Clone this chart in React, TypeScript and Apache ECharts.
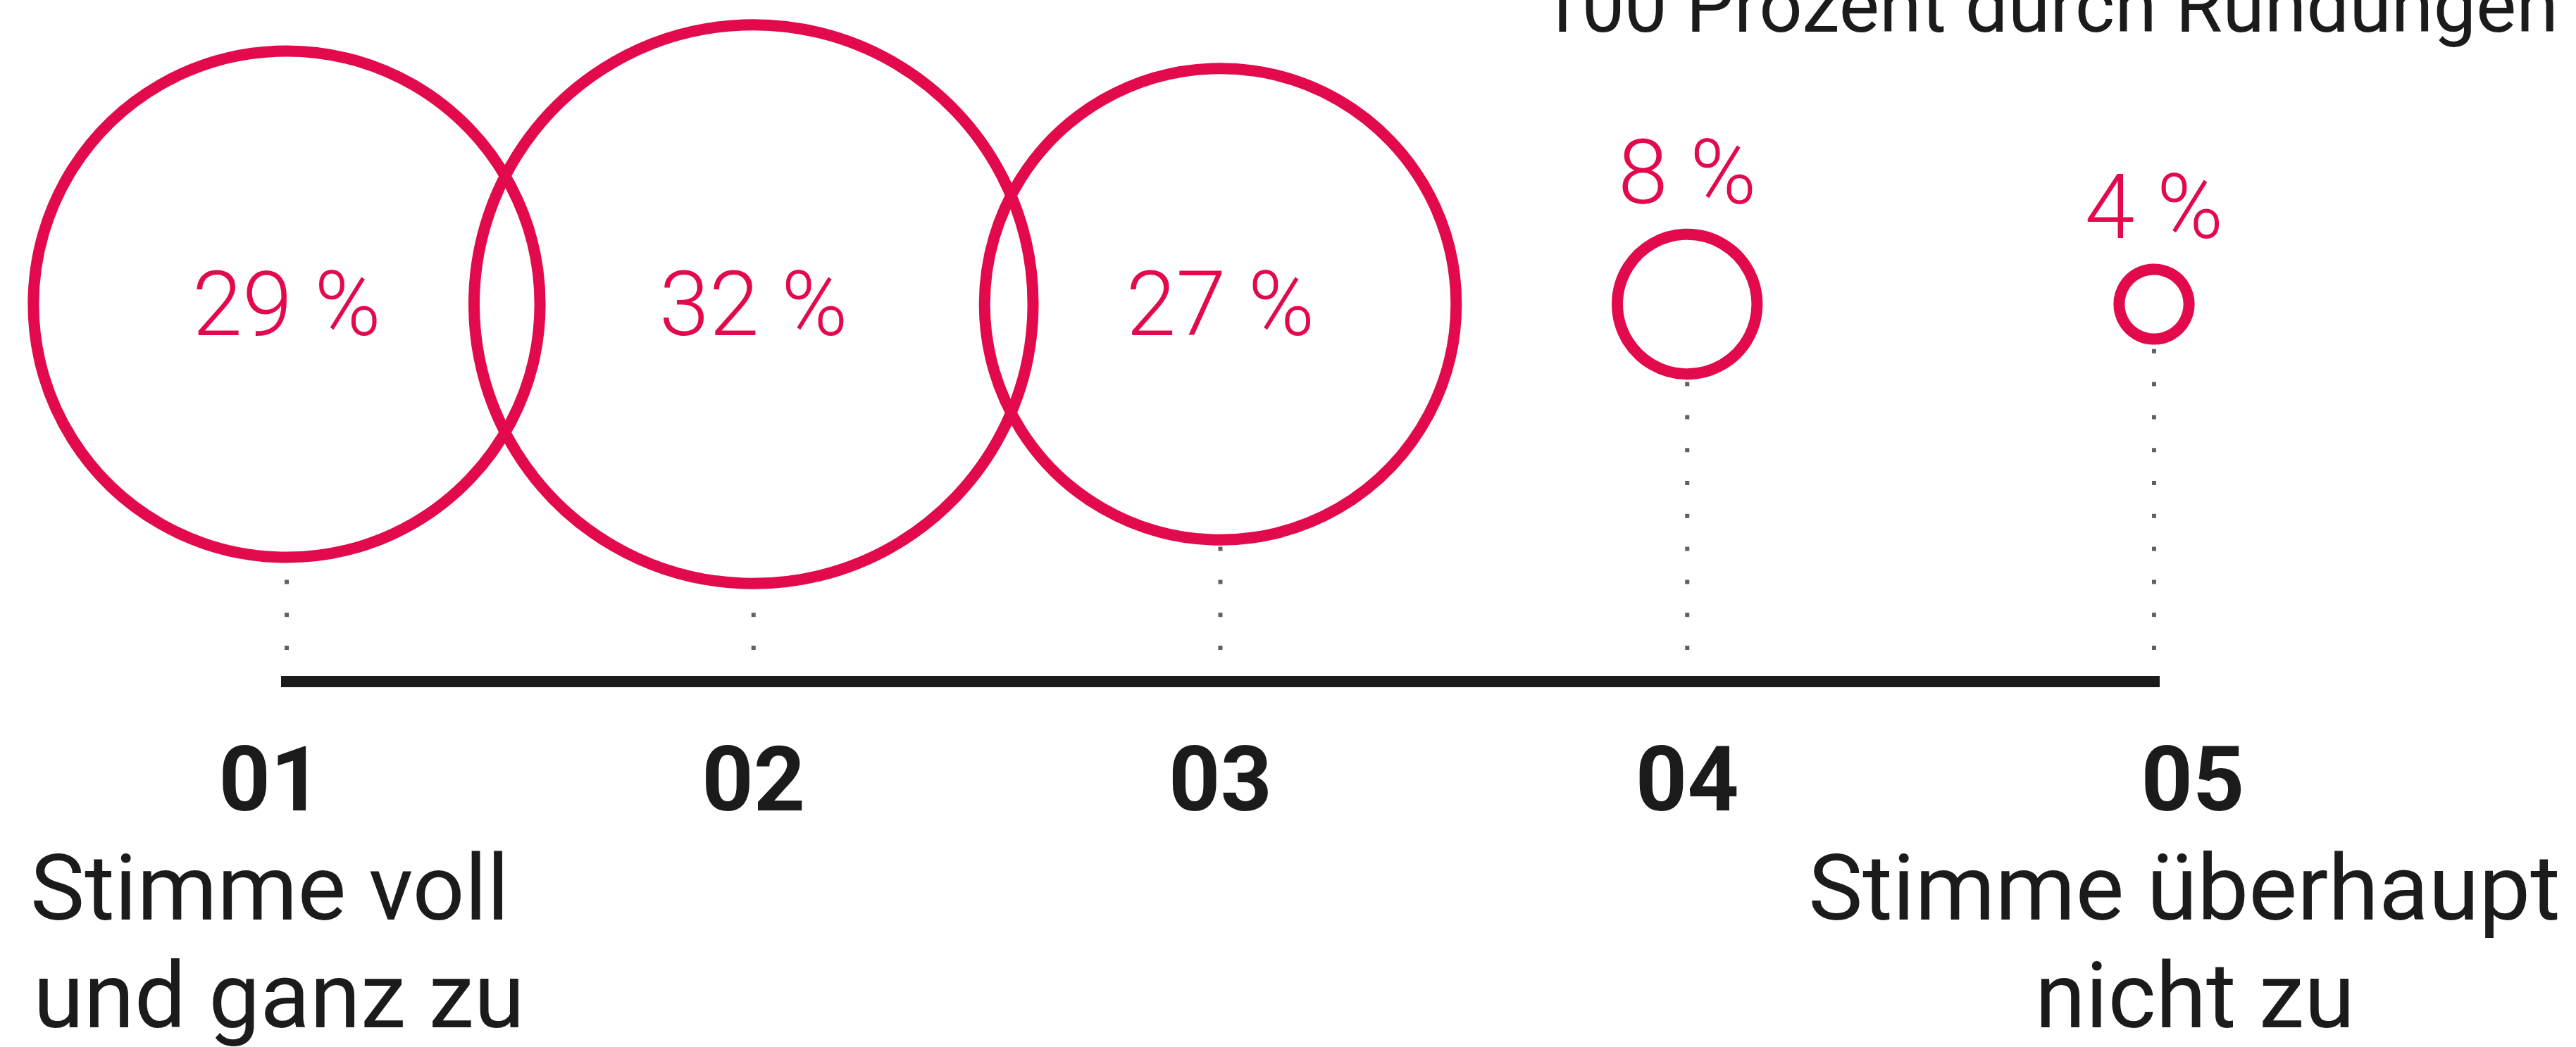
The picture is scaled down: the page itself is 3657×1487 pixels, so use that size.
import React, { useEffect, useRef } from 'react';
import * as echarts from 'echarts';

// ---- data ----
const categories = ['01', '02', '03', '04', '05'];
const shares = [29, 32, 27, 8, 4];
const shareLabels = ['29 %', '32 %', '27 %', '8 %', '4 %'];
const labelAbove = [false, false, false, true, true];
const scaleTitleTop = ['Stimme voll', '', '', '', 'Stimme überhaupt'];
const scaleTitleBottom = ['und ganz zu', '', '', '', 'nicht zu'];
const footnote = '100 Prozent durch Rundungen';

// ---- styles ----
const RED = '#e20a4c';
const INK = '#1b1b1b';
const DOT = '#616161';
const PX_PER_PCT = 24.8;
const RING = 16;
const FONT = 'Roboto';

export default function App() {
  const ref = useRef<HTMLDivElement>(null);

  useEffect(() => {
    if (!ref.current) return;
    const chart = echarts.init(ref.current, undefined, { renderer: 'svg' });

    const sub = { fontFamily: FONT, fontSize: 130, fontWeight: 400, color: INK, lineHeight: 153 };
    const num = { fontFamily: FONT, fontSize: 128, fontWeight: 700, color: INK, lineHeight: 157 };

    const option: any = {
      animation: false,
      backgroundColor: '#ffffff',
      grid: { left: 407, right: 599, top: 432, bottom: 519, containLabel: false },
      xAxis: {
        type: 'category',
        data: categories,
        boundaryGap: false,
        axisLine: { show: true, lineStyle: { color: INK, width: 16, cap: 'square' } },
        axisTick: { show: false },
        splitLine: { show: false },
        axisLabel: {
          interval: 0,
          margin: 60,
          formatter: (value: string, idx: number) => {
            const lines = [`{n${idx}|${value}}`];
            if (scaleTitleTop[idx]) lines.push(`{a${idx}|${scaleTitleTop[idx]}}`);
            if (scaleTitleBottom[idx]) lines.push(`{b${idx}|${scaleTitleBottom[idx]}}`);
            return lines.join('\n');
          },
          rich: {
            n0: { ...num, padding: [0, 46, 0, 0] },
            a0: { ...sub, padding: [0, 48, 0, 0] },
            b0: { ...sub, padding: [0, 22, 0, 0] },
            n1: { ...num },
            n2: { ...num },
            n3: { ...num },
            n4: { ...num, padding: [0, 0, 0, 110] },
            a4: { ...sub, padding: [0, 0, 0, 86] },
            b4: { ...sub, padding: [0, 0, 0, 116] },
          },
        },
      },
      yAxis: {
        type: 'value',
        min: 0,
        max: 1,
        show: false,
        splitLine: { show: false },
      },
      graphic: [
        {
          type: 'text',
          x: 3632,
          y: 62,
          z: 10,
          style: {
            text: footnote,
            font: `400 108px ${FONT}`,
            fill: INK,
            textAlign: 'right',
            textVerticalAlign: 'bottom',
          },
        },
      ],
      series: [
        {
          type: 'custom',
          z: 1,
          clip: false,
          data: shares.map((v, i) => [i, v]),
          renderItem: (params: any, api: any) => {
            const idx = api.value(0);
            const v = api.value(1);
            const centre = api.coord([idx, 1]);
            const base = api.coord([idx, 0]);
            const endY = centre[1] + (v * PX_PER_PCT) / 2 + RING / 2;
            return {
              type: 'line',
              shape: { x1: base[0], y1: base[1] - 45, x2: base[0], y2: endY },
              style: { stroke: DOT, lineWidth: 6, lineDash: [6, 40.8], lineCap: 'butt' },
            };
          },
        },
        {
          type: 'scatter',
          z: 3,
          clip: false,
          symbol: 'circle',
          data: shares.map((v, i) => ({
            value: [i, 1, v],
            symbolSize: v * PX_PER_PCT,
            label: {
              show: true,
              formatter: shareLabels[i],
              position: labelAbove[i] ? 'top' : 'inside',
              distance: 15,
              color: RED,
              fontFamily: FONT,
              fontSize: 128,
              fontWeight: 300,
              lineHeight: 130,
            },
          })),
          itemStyle: {
            color: 'rgba(255,255,255,0)',
            borderColor: RED,
            borderWidth: RING,
            opacity: 1,
          },
          emphasis: { disabled: true },
        },
      ],
    };

    chart.setOption(option);
    return () => chart.dispose();
  }, []);

  return (
    <div
      ref={ref}
      style={{ position: 'fixed', left: 0, top: 0, width: 3657, height: 1487, background: '#fff' }}
    />
  );
}
